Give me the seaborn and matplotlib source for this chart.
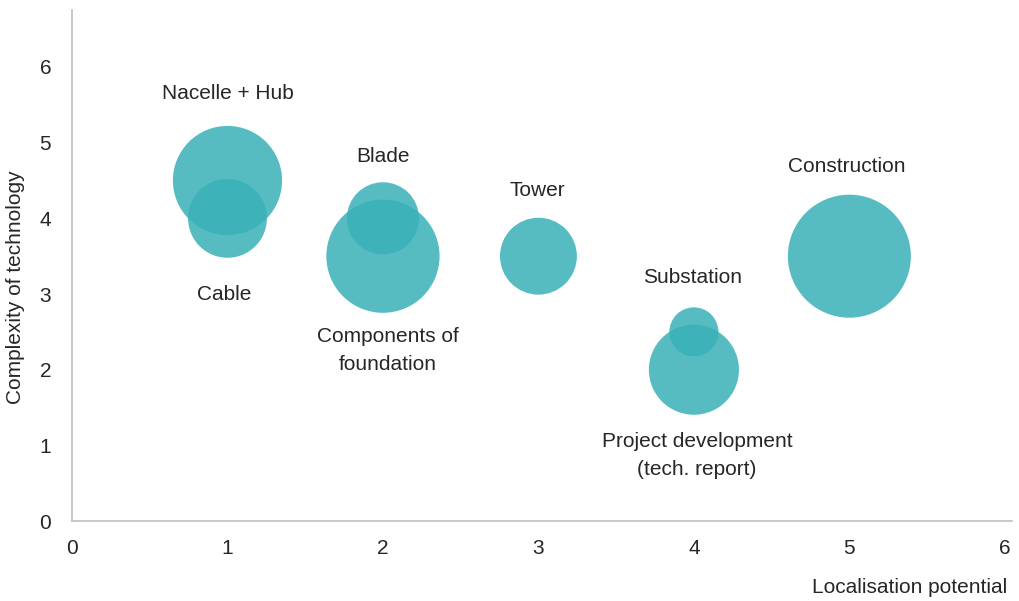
import matplotlib
matplotlib.use("Agg")
import matplotlib.pyplot as plt
import seaborn as sns
import pandas as pd

# Value-chain components: localisation potential vs. complexity of technology
components = ["Nacelle + Hub", "Cable", "Blade", "Components of\nfoundation",
              "Tower", "Substation", "Project development\n(tech. report)", "Construction"]
localisation = [1, 1, 2, 2, 3, 4, 4, 5]
complexity = [4.5, 4.0, 4.0, 3.5, 3.5, 2.5, 2.0, 3.5]
bubble_size = [11.9, 6.2, 5.2, 12.8, 5.9, 2.4, 8.1, 15.1]

# Label anchor positions (data coordinates) for each component name
label_x = [1.0, 0.98, 2.0, 2.03, 2.99, 3.99, 4.02, 4.98]
label_y = [5.65, 3.00, 4.82, 2.25, 4.37, 3.22, 0.87, 4.69]

x_ticks = [0, 1, 2, 3, 4, 5, 6]
y_ticks = [0, 1, 2, 3, 4, 5, 6]

df = pd.DataFrame({"component": components, "x": localisation,
                   "y": complexity, "size": bubble_size})

sns.set_theme(style="white")
plt.rcParams["font.family"] = ["Liberation Sans", "DejaVu Sans"]

fig = plt.figure(figsize=(10.20, 6.01), dpi=100)
ax = fig.add_axes([0.0706, 0.133, 0.9214, 0.850])

teal = "#3AB1B8"
# area proportional to size value: full scale 15.1 -> diameter ~123 px
max_d_pt = 123 * 0.72
sns.scatterplot(data=df, x="x", y="y", size="size",
                sizes=(0, max_d_pt ** 2), size_norm=(0, 15.1),
                color=teal, alpha=0.86, linewidth=0, legend=False, ax=ax)

fs = 15
for name, lx, ly in zip(components, label_x, label_y):
    ax.text(lx, ly, name, ha="center", va="center", fontsize=fs,
            color="#262626", linespacing=1.6)

ax.set_xlim(0, 6.045)
ax.set_ylim(0, 6.75)
ax.set_xticks(x_ticks)
ax.set_yticks(y_ticks)
ax.tick_params(axis="x", length=0, labelsize=fs, colors="#262626", pad=13)
ax.tick_params(axis="y", length=0, labelsize=fs, colors="#262626", pad=15)

for side in ["top", "right"]:
    ax.spines[side].set_visible(False)
for side in ["left", "bottom"]:
    ax.spines[side].set_color("#BFBFBF")
    ax.spines[side].set_linewidth(1.2)

ax.set_xlabel("Localisation potential", fontsize=fs, color="#262626")
ax.xaxis.set_label_coords(0.995, -0.112)
ax.xaxis.label.set_horizontalalignment("right")
ax.set_ylabel("Complexity of technology", fontsize=fs, color="#262626")
ax.yaxis.set_label_coords(-0.05, 0.458)

fig.savefig("out.png", dpi=100)
